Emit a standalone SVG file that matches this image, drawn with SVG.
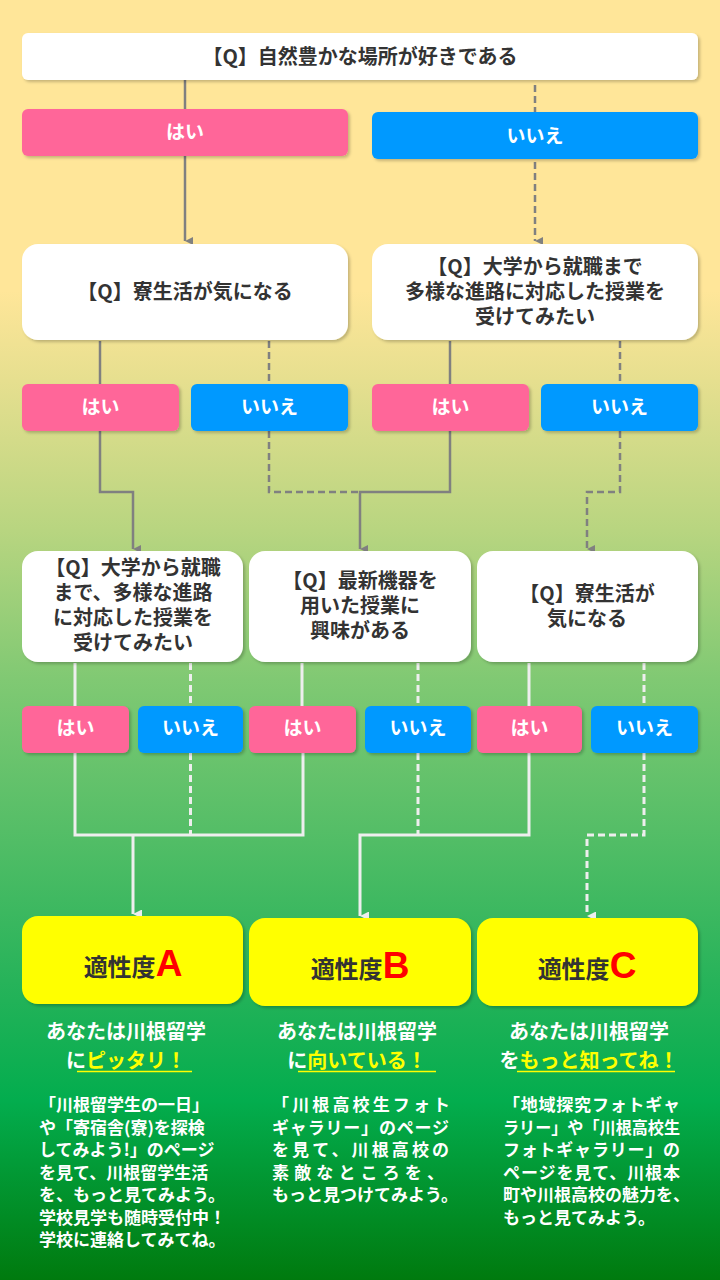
<svg xmlns="http://www.w3.org/2000/svg" width="720" height="1280" viewBox="0 0 720 1280">
<defs>
<linearGradient id="bg" x1="0" y1="0" x2="0" y2="1">
<stop offset="0" stop-color="#FFE699"/>
<stop offset="0.227" stop-color="#FFE699"/>
<stop offset="0.297" stop-color="#E6DF8F"/>
<stop offset="0.414" stop-color="#B8D580"/>
<stop offset="0.531" stop-color="#80C973"/>
<stop offset="0.648" stop-color="#55BE67"/>
<stop offset="0.766" stop-color="#27B35A"/>
<stop offset="0.86" stop-color="#03AD4E"/>
<stop offset="1" stop-color="#007A0E"/>
</linearGradient>
<filter id="sh" x="-10%" y="-10%" width="120%" height="130%">
<feDropShadow dx="2" dy="2" stdDeviation="1.5" flood-color="#000" flood-opacity="0.22"/>
</filter>
<marker id="ag" viewBox="0 0 10 10" refX="5" refY="10" markerWidth="8" markerHeight="8" markerUnits="userSpaceOnUse" orient="auto-start-reverse">
<path d="M0,0 L10,0 L5,10 z" fill="#808080"/>
</marker>
<marker id="aw" viewBox="0 0 10 10" refX="5" refY="10" markerWidth="9" markerHeight="9" markerUnits="userSpaceOnUse" orient="auto-start-reverse">
<path d="M0,0 L10,0 L5,10 z" fill="#EEEEEE"/>
</marker>
<style>
.q{fill:#fff;filter:url(#sh)}
.hai{fill:#FF6699;filter:url(#sh)}
.iie{fill:#0099FF;filter:url(#sh)}
.res{fill:#FFFF00;filter:url(#sh)}
.qt{font-family:"Noto Sans CJK JP","Noto Sans",sans-serif;font-size:20px;font-weight:bold;fill:#333;text-anchor:middle}
.at{font-family:"Noto Sans CJK JP","Noto Sans",sans-serif;font-size:19px;font-weight:bold;fill:#fff;text-anchor:middle}
.rt{font-family:"Noto Sans CJK JP","Noto Sans",sans-serif;font-size:24px;font-weight:bold;fill:#333}
.rl{font-family:"Liberation Sans","Noto Sans",sans-serif;font-size:37px;font-weight:bold;fill:#FF0000}
.hd{font-family:"Noto Sans CJK JP","Noto Sans",sans-serif;font-size:20px;font-weight:bold;fill:#fff;text-anchor:middle}
.hy{fill:#FFFF00}
.pt{font-family:"Noto Sans CJK JP","Noto Sans",sans-serif;font-size:17px;font-weight:bold;fill:#fff}
.cg{fill:none;stroke:#808080;stroke-width:2.5}
.cw{fill:none;stroke:#EEEEEE;stroke-width:3}
.d{stroke-dasharray:7 4}
.ul{stroke:#FFFF00;stroke-width:1.5}
</style>
</defs>
<rect x="0" y="0" width="720" height="1280" fill="url(#bg)"/>

<g id="connectors">
<path class="cg" d="M185,80 V241" marker-end="url(#ag)"/>
<path class="cg d" d="M535,85 V241" marker-end="url(#ag)"/>
<path class="cg" d="M100,341 V384"/>
<path class="cg d" d="M269,341 V384"/>
<path class="cg" d="M450,341 V384"/>
<path class="cg d" d="M620,341 V384"/>
<path class="cg" d="M100,431 V492 H133 V549" marker-end="url(#ag)"/>
<path class="cg d" d="M269,431 V492 H360"/>
<path class="cg" d="M450,431 V492 H360 V549" marker-end="url(#ag)"/>
<path class="cg d" d="M620,431 V492 H587 V549" marker-end="url(#ag)"/>
<path class="cw" d="M75,663 V706"/>
<path class="cw d" d="M190.5,663 V706"/>
<path class="cw" d="M302,663 V706"/>
<path class="cw d" d="M418,663 V706"/>
<path class="cw" d="M529,663 V706"/>
<path class="cw d" d="M644,663 V706"/>
<path class="cw" d="M75,753 V835 H303 V753"/>
<path class="cw d" d="M190.5,753 V835"/>
<path class="cw" d="M133,835 V914" marker-end="url(#aw)"/>
<path class="cw d" d="M418,753 V835"/>
<path class="cw" d="M529,753 V835 H360 V916" marker-end="url(#aw)"/>
<path class="cw d" d="M644,753 V835 H587 V916" marker-end="url(#aw)"/>
</g>

<g id="q1">
<rect class="q" x="22" y="33" width="676" height="47" rx="6"/>
<text class="qt" x="360" y="64">【Q】自然豊かな場所が好きである</text>
</g>
<g id="a1-yes">
<rect class="hai" x="22" y="109" width="326" height="47" rx="6"/>
<text class="at" x="185" y="139">はい</text>
</g>
<g id="a1-no">
<rect class="iie" x="372" y="112" width="326" height="47" rx="6"/>
<text class="at" x="535" y="143">いいえ</text>
</g>

<g id="q2a">
<rect class="q" x="22" y="244" width="326" height="96" rx="16"/>
<text class="qt" x="185" y="299">【Q】寮生活が気になる</text>
</g>
<g id="q2b">
<rect class="q" x="372" y="244" width="326" height="96" rx="16"/>
<text class="qt" x="535" y="274">【Q】大学から就職まで</text>
<text class="qt" x="535" y="299">多様な進路に対応した授業を</text>
<text class="qt" x="535" y="324">受けてみたい</text>
</g>

<g id="a2a-yes"><rect class="hai" x="22" y="384" width="157" height="47" rx="6"/><text class="at" x="100.5" y="414">はい</text></g>
<g id="a2a-no"><rect class="iie" x="191" y="384" width="157" height="47" rx="6"/><text class="at" x="269.5" y="414">いいえ</text></g>
<g id="a2b-yes"><rect class="hai" x="372" y="384" width="157" height="47" rx="6"/><text class="at" x="450.5" y="414">はい</text></g>
<g id="a2b-no"><rect class="iie" x="541" y="384" width="157" height="47" rx="6"/><text class="at" x="619.5" y="414">いいえ</text></g>

<g id="q3a">
<rect class="q" x="22" y="551" width="221" height="111" rx="16"/>
<text class="qt" x="133" y="575">【Q】大学から就職</text>
<text class="qt" x="133" y="600">まで、多様な進路</text>
<text class="qt" x="133" y="625">に対応した授業を</text>
<text class="qt" x="133" y="650">受けてみたい</text>
</g>
<g id="q3b">
<rect class="q" x="249" y="551" width="222" height="111" rx="16"/>
<text class="qt" x="360" y="588">【Q】最新機器を</text>
<text class="qt" x="360" y="613">用いた授業に</text>
<text class="qt" x="360" y="638">興味がある</text>
</g>
<g id="q3c">
<rect class="q" x="477" y="551" width="221" height="111" rx="16"/>
<text class="qt" x="587" y="601">【Q】寮生活が</text>
<text class="qt" x="587" y="626">気になる</text>
</g>

<g id="a3a-yes"><rect class="hai" x="22" y="706" width="107" height="47" rx="6"/><text class="at" x="75.5" y="735">はい</text></g>
<g id="a3a-no"><rect class="iie" x="138" y="706" width="105" height="47" rx="6"/><text class="at" x="190.5" y="735">いいえ</text></g>
<g id="a3b-yes"><rect class="hai" x="249" y="706" width="107" height="47" rx="6"/><text class="at" x="302.5" y="735">はい</text></g>
<g id="a3b-no"><rect class="iie" x="365" y="706" width="106" height="47" rx="6"/><text class="at" x="418" y="735">いいえ</text></g>
<g id="a3c-yes"><rect class="hai" x="477" y="706" width="105" height="47" rx="6"/><text class="at" x="529.5" y="735">はい</text></g>
<g id="a3c-no"><rect class="iie" x="591" y="706" width="107" height="47" rx="6"/><text class="at" x="644.5" y="735">いいえ</text></g>

<g id="resA">
<rect class="res" x="22" y="916" width="221" height="88" rx="16"/>
<text x="133" y="976" text-anchor="middle"><tspan class="rt">適性度</tspan><tspan class="rl">A</tspan></text>
</g>
<g id="resB">
<rect class="res" x="249" y="918" width="222" height="88" rx="16"/>
<text x="360" y="978" text-anchor="middle"><tspan class="rt">適性度</tspan><tspan class="rl">B</tspan></text>
</g>
<g id="resC">
<rect class="res" x="477" y="918" width="221" height="88" rx="16"/>
<text x="587" y="978" text-anchor="middle"><tspan class="rt">適性度</tspan><tspan class="rl">C</tspan></text>
</g>

<g id="textA">
<text class="hd" x="126" y="1039">あなたは川根留学</text>
<text class="hd" x="126" y="1068">に<tspan class="hy">ピッタリ！</tspan></text>
<line class="ul" x1="77" y1="1071.5" x2="192" y2="1071.5"/>
<text class="pt" x="39" y="1111">「川根留学生の一日」</text>
<text class="pt" x="39" y="1133.5">や「寄宿舎(寮)を探検</text>
<text class="pt" x="39" y="1156">してみよう!」のページ</text>
<text class="pt" x="39" y="1178.5">を見て、川根留学生活</text>
<text class="pt" x="39" y="1201">を、もっと見てみよう。</text>
<text class="pt" x="39" y="1223.5">学校見学も随時受付中！</text>
<text class="pt" x="39" y="1246">学校に連絡してみてね。</text>
</g>
<g id="textB">
<text class="hd" x="357" y="1039">あなたは川根留学</text>
<text class="hd" x="357" y="1068">に<tspan class="hy">向いている！</tspan></text>
<line class="ul" x1="298" y1="1071.5" x2="436" y2="1071.5"/>
<text class="pt" x="272" y="1111" textLength="178" lengthAdjust="spacing">「川根高校生フォト</text>
<text class="pt" x="272" y="1133.5" textLength="177" lengthAdjust="spacing">ギャラリー」のページ</text>
<text class="pt" x="272" y="1156" textLength="177" lengthAdjust="spacing">を見て、川根高校の</text>
<text class="pt" x="272" y="1178.5" textLength="172" lengthAdjust="spacing">素敵なところを、</text>
<text class="pt" x="272" y="1201">もっと見つけてみよう。</text>
</g>
<g id="textC">
<text class="hd" x="589" y="1039">あなたは川根留学</text>
<text class="hd" x="589" y="1068">を<tspan class="hy">もっと知ってね！</tspan></text>
<line class="ul" x1="517" y1="1071.5" x2="675" y2="1071.5"/>
<text class="pt" x="503" y="1111" textLength="177" lengthAdjust="spacing">「地域探究フォトギャ</text>
<text class="pt" x="503" y="1133.5" textLength="177" lengthAdjust="spacingAndGlyphs">ラリー」や「川根高校生</text>
<text class="pt" x="503" y="1156" textLength="177" lengthAdjust="spacing">フォトギャラリー」の</text>
<text class="pt" x="503" y="1178.5" textLength="177" lengthAdjust="spacing">ページを見て、川根本</text>
<text class="pt" x="503" y="1201">町や川根高校の魅力を、</text>
<text class="pt" x="503" y="1223.5">もっと見てみよう。</text>
</g>
</svg>
